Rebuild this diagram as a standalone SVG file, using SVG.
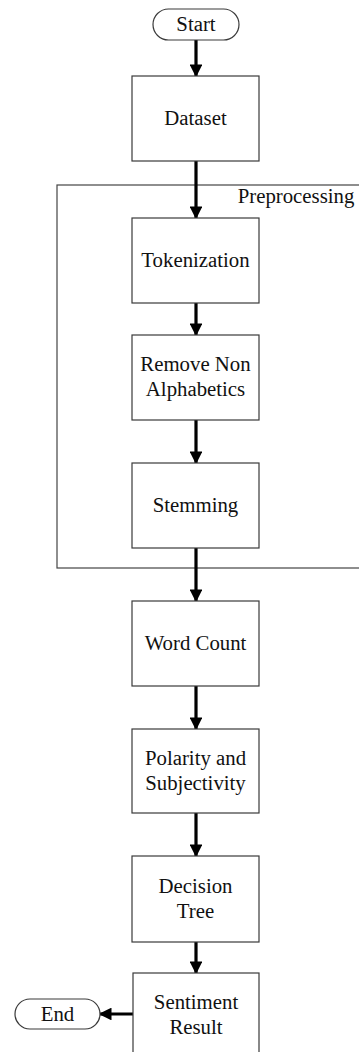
<svg xmlns="http://www.w3.org/2000/svg" width="359" height="1052" viewBox="0 0 359 1052">
<style>
.box{fill:#fff;stroke:#3a3a3a;stroke-width:1.2}
.frame{fill:none;stroke:#444;stroke-width:1.2}
.t{font-family:"Liberation Serif","Times New Roman",serif;font-size:20.8px;fill:#111;text-anchor:middle}
.c{stroke:#000;stroke-width:3.2;fill:none;marker-end:url(#ah)}
</style>
<defs>
<marker id="ah" markerWidth="4" markerHeight="4" refX="3.6" refY="2" orient="auto" markerUnits="strokeWidth" viewBox="0 0 4 4">
<path d="M0,0 L4,2 L0,4 Z" fill="#000"/>
</marker>
</defs>
<g id="preprocessing">
<rect class="frame" x="57" y="185" width="310" height="383"/>
<text class="t" x="296" y="203">Preprocessing</text>
</g>
<g id="connectors">
<line class="c" x1="196" y1="40" x2="196" y2="76"/>
<line class="c" x1="196" y1="161" x2="196" y2="218"/>
<line class="c" x1="196" y1="303" x2="196" y2="335"/>
<line class="c" x1="196" y1="420" x2="196" y2="463"/>
<line class="c" x1="196" y1="548" x2="196" y2="601"/>
<line class="c" x1="196" y1="686" x2="196" y2="729"/>
<line class="c" x1="196" y1="813" x2="196" y2="856"/>
<line class="c" x1="196" y1="942" x2="196" y2="973"/>
<line class="c" x1="133" y1="1014" x2="100" y2="1014"/>
</g>
<g id="start">
<rect class="box" x="153" y="9" width="86" height="31" rx="15.5"/>
<text class="t" x="196" y="31">Start</text>
</g>
<g id="dataset">
<rect class="box" x="132" y="76" width="127" height="85"/>
<text class="t" x="195.5" y="125">Dataset</text>
</g>
<g id="tokenization">
<rect class="box" x="132" y="218" width="127" height="85"/>
<text class="t" x="195.5" y="267">Tokenization</text>
</g>
<g id="remove">
<rect class="box" x="132" y="335" width="127" height="85"/>
<text class="t" x="195.5" y="371">Remove Non</text>
<text class="t" x="195.5" y="396">Alphabetics</text>
</g>
<g id="stemming">
<rect class="box" x="132" y="463" width="127" height="85"/>
<text class="t" x="195.5" y="512">Stemming</text>
</g>
<g id="wordcount">
<rect class="box" x="132" y="601" width="127" height="85"/>
<text class="t" x="195.5" y="650">Word Count</text>
</g>
<g id="polarity">
<rect class="box" x="132" y="729" width="127" height="84"/>
<text class="t" x="195.5" y="765">Polarity and</text>
<text class="t" x="195.5" y="790">Subjectivity</text>
</g>
<g id="decision">
<rect class="box" x="132" y="856" width="127" height="86"/>
<text class="t" x="195.5" y="893">Decision</text>
<text class="t" x="195.5" y="918">Tree</text>
</g>
<g id="sentiment">
<rect class="box" x="133" y="973" width="126" height="90"/>
<text class="t" x="196" y="1009">Sentiment</text>
<text class="t" x="196" y="1034">Result</text>
</g>
<g id="end">
<rect class="box" x="15" y="999" width="85" height="30" rx="15"/>
<text class="t" x="57.5" y="1021">End</text>
</g>
</svg>
